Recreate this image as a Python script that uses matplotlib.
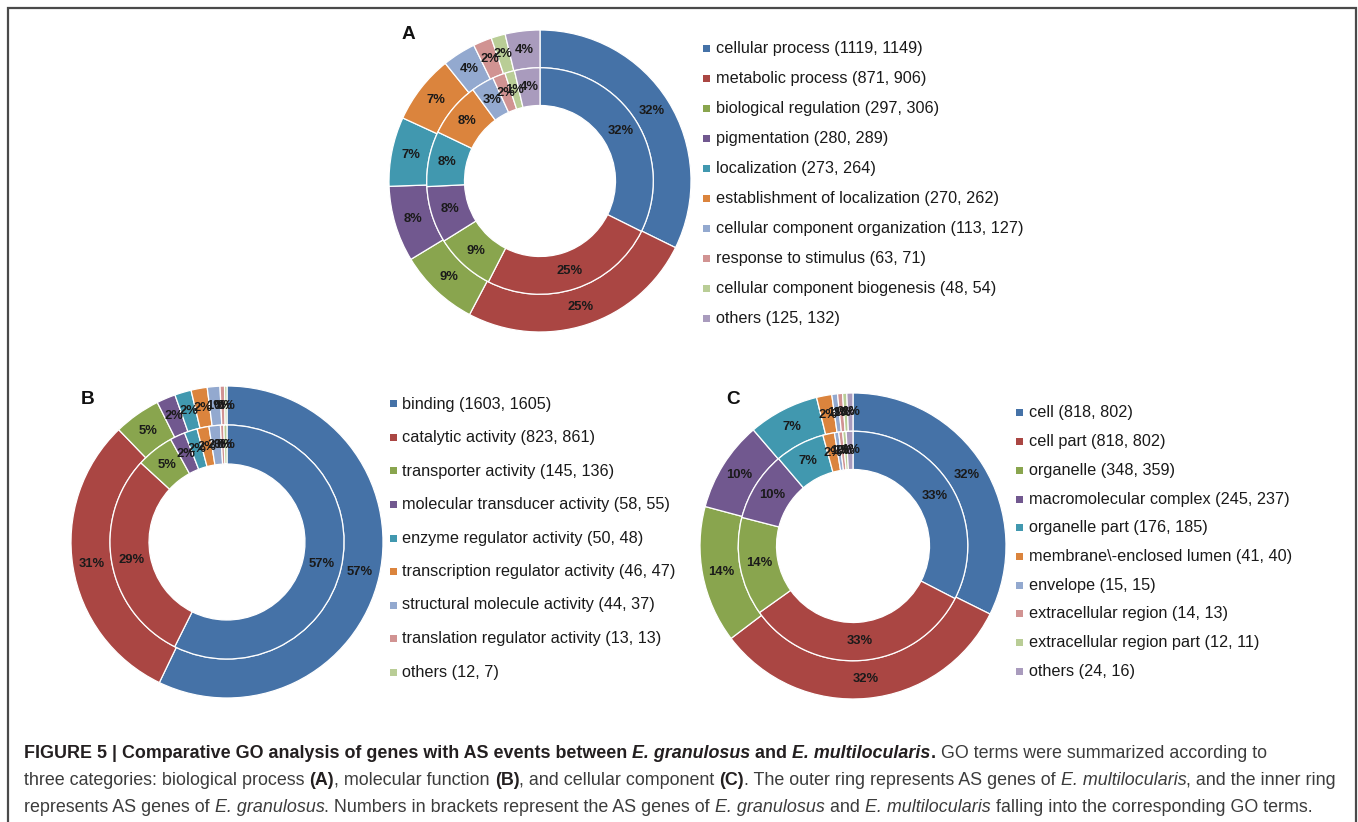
import matplotlib
matplotlib.use("Agg")
import matplotlib.pyplot as plt
from matplotlib import font_manager
from matplotlib.patches import Rectangle

W, H = 1358, 822

# Excel 2007 default palette
COLORS = ["#4572A7", "#AA4643", "#89A54E", "#71588F", "#4198AF",
          "#DB843D", "#93A9CF", "#D19392", "#B9CD96", "#A99BBD"]

# (A) biological process: (E. granulosus, E. multilocularis)
A_TERMS = ["cellular process", "metabolic process", "biological regulation",
           "pigmentation", "localization", "establishment of localization",
           "cellular component organization", "response to stimulus",
           "cellular component biogenesis", "others"]
A_GRAN = [1119, 871, 297, 280, 273, 270, 113, 63, 48, 125]
A_MULTI = [1149, 906, 306, 289, 264, 262, 127, 71, 54, 132]

# (B) molecular function
B_TERMS = ["binding", "catalytic activity", "transporter activity",
           "molecular transducer activity", "enzyme regulator activity",
           "transcription regulator activity", "structural molecule activity",
           "translation regulator activity", "others"]
B_GRAN = [1603, 823, 145, 58, 50, 46, 44, 13, 12]
B_MULTI = [1605, 861, 136, 55, 48, 47, 37, 13, 7]

# (C) cellular component
C_TERMS = ["cell", "cell part", "organelle", "macromolecular complex",
           "organelle part", "membrane\\-enclosed lumen", "envelope",
           "extracellular region", "extracellular region part", "others"]
C_GRAN = [818, 818, 348, 245, 176, 41, 15, 14, 12, 24]
C_MULTI = [802, 802, 359, 237, 185, 40, 15, 13, 11, 16]

names = {f.name for f in font_manager.fontManager.ttflist}
SANS = "Liberation Sans" if "Liberation Sans" in names else "DejaVu Sans"
CAP = "Liberation Sans Narrow" if "Liberation Sans Narrow" in names else SANS
plt.rcParams["font.family"] = [SANS, "DejaVu Sans"]

fig = plt.figure(figsize=(W / 100, H / 100), dpi=100)
fig.patch.set_facecolor("white")
ax = fig.add_axes([0, 0, 1, 1])


def px(v):
    # pixel size -> points at dpi 100
    return v * 0.72


def donut(cx, cy, r, inner, outer):
    """inner ring = E. granulosus, outer ring = E. multilocularis"""
    w = r * 0.25
    tp = dict(fontsize=px(13), fontweight="bold", color="#1a1a1a")
    wp = dict(width=w, edgecolor="white", linewidth=0.9)
    ax.pie(outer, colors=COLORS[:len(outer)], radius=r, center=(cx, H - cy),
           startangle=90, counterclock=False, wedgeprops=wp,
           autopct="%.0f%%", pctdistance=(r - w / 2) / r, textprops=tp)
    ri = r * 0.75
    ax.pie(inner, colors=COLORS[:len(inner)], radius=ri, center=(cx, H - cy),
           startangle=90, counterclock=False, wedgeprops=wp,
           autopct="%.0f%%", pctdistance=(ri - w / 2) / ri, textprops=tp)


def legend(mx, tx, y0, dy, terms, gran, multi):
    for i, t in enumerate(terms):
        y = H - (y0 + i * dy)
        ax.add_patch(Rectangle((mx - 3.5, y - 3.5), 7, 7, color=COLORS[i], lw=0))
        ax.text(tx, y, f"{t} ({gran[i]}, {multi[i]})", fontsize=px(16.2),
                color="#1a1a1a", va="center", ha="left")


donut(540, 181, 151, A_GRAN, A_MULTI)
donut(227, 542, 156, B_GRAN, B_MULTI)
donut(853, 546, 153, C_GRAN, C_MULTI)

legend(706, 716, 49, 30, A_TERMS, A_GRAN, A_MULTI)
legend(393, 402, 404, 33.5, B_TERMS, B_GRAN, B_MULTI)
legend(1019, 1029, 413, 28.7, C_TERMS, C_GRAN, C_MULTI)

for lab, x, y in [("A", 408, 35), ("B", 88, 400), ("C", 733, 400)]:
    ax.text(x, H - y, lab, fontsize=px(19), fontweight="bold",
            color="#111111", ha="center", va="center")

# frame
ax.plot([8, 8, 1356, 1356], [0, H - 8, H - 8, 0], color="#4a4a4a", lw=1.6,
        solid_joinstyle="miter")

ax.set_xlim(0, W)
ax.set_ylim(0, H)
ax.set_aspect("auto")
ax.axis("off")

# caption, built piece by piece so bold / italic runs line up
CAPTION = [
    [("FIGURE 5 | Comparative GO analysis of genes with AS events between ", "b"),
     ("E. granulosus", "bi"), (" and ", "b"), ("E. multilocularis", "bi"),
     (".", "b"), (" GO terms were summarized according to", "r")],
    [("three categories: biological process ", "r"), ("(A)", "b"),
     (", molecular function ", "r"), ("(B)", "b"),
     (", and cellular component ", "r"), ("(C)", "b"),
     (". The outer ring represents AS genes of ", "r"),
     ("E. multilocularis", "i"), (", and the inner ring", "r")],
    [("represents AS genes of ", "r"), ("E. granulosus", "i"),
     (". Numbers in brackets represent the AS genes of ", "r"),
     ("E. granulosus", "i"), (" and ", "r"), ("E. multilocularis", "i"),
     (" falling into the corresponding GO terms.", "r")],
]
CAP_Y = [753, 780, 807]


def style(s):
    return dict(fontweight="bold" if "b" in s else "normal",
                fontstyle="italic" if "i" in s else "normal",
                color="#231f20" if "b" in s else "#3c3c3c")


renderer = fig.canvas.get_renderer()


def line_width(parts, size):
    total = 0
    for txt, s in parts:
        t = fig.text(0, 0, txt, fontsize=size, family=[CAP, "DejaVu Sans"], **style(s))
        total += t.get_window_extent(renderer).width
        t.remove()
    return total


# one font size, chosen so the second line spans the caption width
base = px(16)
size = base * 1316 / line_width(CAPTION[1], base)

for parts, y in zip(CAPTION, CAP_Y):
    x = 24
    for txt, s in parts:
        t = fig.text(x / W, 1 - y / H, txt, fontsize=size, va="center",
                     ha="left", family=[CAP, "DejaVu Sans"], **style(s))
        x += t.get_window_extent(renderer).width

fig.savefig("out.png", dpi=100, facecolor="white")
